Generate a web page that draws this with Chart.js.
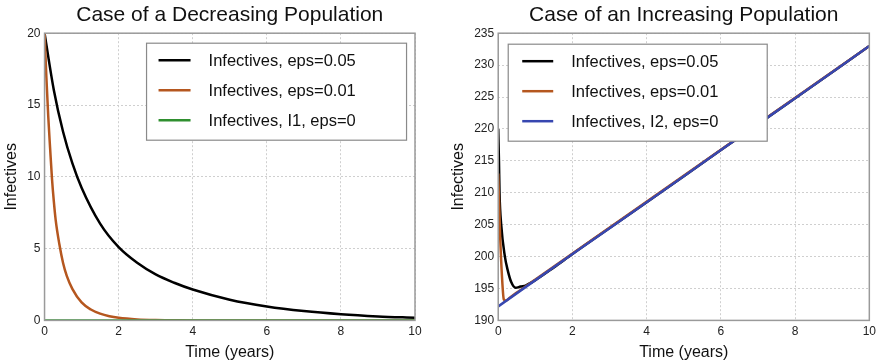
<!DOCTYPE html>
<html>
<head>
<meta charset="utf-8">
<script src="https://cdn.jsdelivr.net/npm/chart.js@4.4.1/dist/chart.umd.min.js"></script>
<style>
  html, body { margin: 0; padding: 0; background: #fff; overflow: hidden; }
  #wrap { position: relative; width: 877px; height: 362px; overflow: hidden; }
  .box { position: absolute; top: 0; height: 362px; }
  #b1 { left: 0; width: 438px; }
  #b2 { left: 440px; width: 440px; }
</style>
</head>
<body>
<div id="wrap">
  <div class="box" id="b1"><canvas id="c1"></canvas></div>
  <div class="box" id="b2"><canvas id="c2"></canvas></div>
</div>
<script>
// ---- Left panel: decreasing population ----
const titleLeft = "Case of a Decreasing Population";
const timeDecBlack = [0, 0.25, 0.5, 0.75, 1, 1.5, 2, 2.5, 3, 3.5, 4, 5, 6, 7, 8, 9, 10];
const infDecEps005 = [20, 16.05, 13.14, 10.95, 9.24, 6.74, 5.10, 4.01, 3.20, 2.62, 2.15, 1.44, 0.97, 0.65, 0.43, 0.28, 0.18];
const timeDecOrange = [0, 0.05, 0.1, 0.15, 0.2, 0.25, 0.3, 0.4, 0.5, 0.6, 0.75, 1, 1.25, 1.5, 1.75, 2, 2.5, 3, 3.5, 4, 10];
const infDecEps001 = [20, 16.9, 14.2, 12.0, 9.9, 8.3, 7.0, 5.3, 4.0, 3.1, 2.2, 1.25, 0.76, 0.47, 0.29, 0.18, 0.07, 0.025, 0.01, 0, 0];
const timeDecGreen = [0, 10];
const infDecI1 = [0, 0];
const yRangeLeft = [0, 20];

// ---- Right panel: increasing population ----
const titleRight = "Case of an Increasing Population";
const timeIncBlack = [0, 0.02, 0.035, 0.08, 0.18, 0.25, 0.35, 0.47, 0.6, 0.75, 1, 1.5, 2, 4, 6, 8, 10];
const infIncEps005 = [220, 215, 210, 205, 200, 198.0, 196.0, 195.1, 195.3, 195.5, 196.3, 198.3, 200.4, 208.5, 216.7, 224.8, 233];
const timeIncOrange = [0, 0.05, 0.1, 0.15, 0.2, 0.3, 0.5, 1, 10];
const infIncEps001 = [213, 203.5, 197, 193.3, 193.1, 193.5, 194.35, 196.4, 233];
const timeIncBlue = [0, 2, 4, 6, 8, 10];
const infIncI2 = [192.2, 200.4, 208.5, 216.7, 224.8, 233];
const yRangeRight = [190, 235];

const xTicksStep = 2;
const legendLabels1 = ["Infectives, eps=0.05", "Infectives, eps=0.01", "Infectives, I1, eps=0"];
const legendLabels2 = ["Infectives, eps=0.05", "Infectives, eps=0.01", "Infectives, I2, eps=0"];

const C_BLACK = "#000000", C_ORANGE = "#b5571f", C_GREEN = "#2f8f2f", C_BLUE = "#3747b0";
const FONT = "'Liberation Sans', Arial, Helvetica, sans-serif";

function pts(xs, ys) { return xs.map((x, i) => ({ x: x, y: ys[i] })); }

function makeLegendPlugin(opts) {
  return {
    id: 'boxLegend',
    afterDatasetsDraw(chart) {
      const ctx = chart.ctx, a = chart.chartArea;
      ctx.save();
      ctx.strokeStyle = '#9a9a9a';
      ctx.lineWidth = 1.5;
      ctx.strokeRect(a.left, a.top, a.right - a.left, a.bottom - a.top);
      const bx = a.left + opts.offX, by = a.top + opts.offY;
      ctx.fillStyle = '#ffffff';
      ctx.fillRect(bx, by, opts.w, opts.h);
      ctx.strokeStyle = '#8a8a8a';
      ctx.lineWidth = 1.2;
      ctx.strokeRect(bx, by, opts.w, opts.h);
      ctx.font = '16.5px ' + FONT;
      ctx.textBaseline = 'middle';
      chart.data.datasets.forEach((ds, i) => {
        const y = by + 17 + i * 30;
        ctx.strokeStyle = ds.borderColor;
        ctx.lineWidth = 2.5;
        ctx.beginPath();
        ctx.moveTo(bx + opts.lineX0, y);
        ctx.lineTo(bx + opts.lineX1, y);
        ctx.stroke();
        ctx.fillStyle = '#111';
        ctx.fillText(ds.label, bx + opts.textX, y + 1);
      });
      ctx.restore();
    }
  };
}

function makeChart(id, title, datasets, yRange, padLeft, padRight, legendOpts) {
  return new Chart(document.getElementById(id), {
    type: 'line',
    data: { datasets: datasets },
    plugins: [makeLegendPlugin(legendOpts)],
    options: {
      responsive: true,
      maintainAspectRatio: false,
      animation: false,
      elements: { point: { radius: 0 }, line: { borderWidth: 2.5, cubicInterpolationMode: 'monotone' } },
      layout: { padding: { left: padLeft, right: padRight, top: 0, bottom: 0 } },
      plugins: {
        legend: { display: false },
        tooltip: { enabled: false },
        title: {
          display: true, text: title, color: '#111', fullSize: false,
          font: { family: FONT, size: 21, weight: 'normal' },
          padding: { top: 3, bottom: 5 }
        }
      },
      scales: {
        x: {
          type: 'linear', min: 0, max: 10,
          ticks: { stepSize: xTicksStep, color: '#222', font: { family: FONT, size: 12 }, padding: 4, maxRotation: 0 },
          grid: { color: '#cfcfcf', drawTicks: false, lineWidth: 1 },
          border: { display: false, dash: [2, 2] },
          title: { display: true, text: 'Time (years)', color: '#111', font: { family: FONT, size: 16 }, padding: { top: 0, bottom: 0 } }
        },
        y: {
          type: 'linear', min: yRange[0], max: yRange[1],
          ticks: { stepSize: 5, color: '#222', font: { family: FONT, size: 12 }, padding: 4 },
          grid: { color: '#cfcfcf', drawTicks: false, lineWidth: 1 },
          border: { display: false, dash: [2, 2] },
          title: { display: true, text: 'Infectives', color: '#111', font: { family: FONT, size: 16 }, padding: { top: 0, bottom: 2 } }
        }
      }
    }
  });
}

makeChart('c1', titleLeft, [
  { label: legendLabels1[0], data: pts(timeDecBlack, infDecEps005), borderColor: C_BLACK, backgroundColor: C_BLACK, order: 2 },
  { label: legendLabels1[1], data: pts(timeDecOrange, infDecEps001), borderColor: C_ORANGE, backgroundColor: C_ORANGE, order: 1 },
  { label: legendLabels1[2], data: pts(timeDecGreen, infDecI1), borderColor: C_GREEN, backgroundColor: C_GREEN, order: 0 }
], yRangeLeft, 2, 23, { offX: 102, offY: 10, w: 260, h: 97, lineX0: 12, lineX1: 44, textX: 62 });

makeChart('c2', titleRight, [
  { label: legendLabels2[0], data: pts(timeIncBlack, infIncEps005), borderColor: C_BLACK, backgroundColor: C_BLACK, order: 2 },
  { label: legendLabels2[1], data: pts(timeIncOrange, infIncEps001), borderColor: C_ORANGE, backgroundColor: C_ORANGE, order: 1 },
  { label: legendLabels2[2], data: pts(timeIncBlue, infIncI2), borderColor: C_BLUE, backgroundColor: C_BLUE, order: 0 }
], yRangeRight, 9, 0, { offX: 10, offY: 11, w: 259, h: 97, lineX0: 14, lineX1: 45, textX: 63 });
</script>
</body>
</html>
